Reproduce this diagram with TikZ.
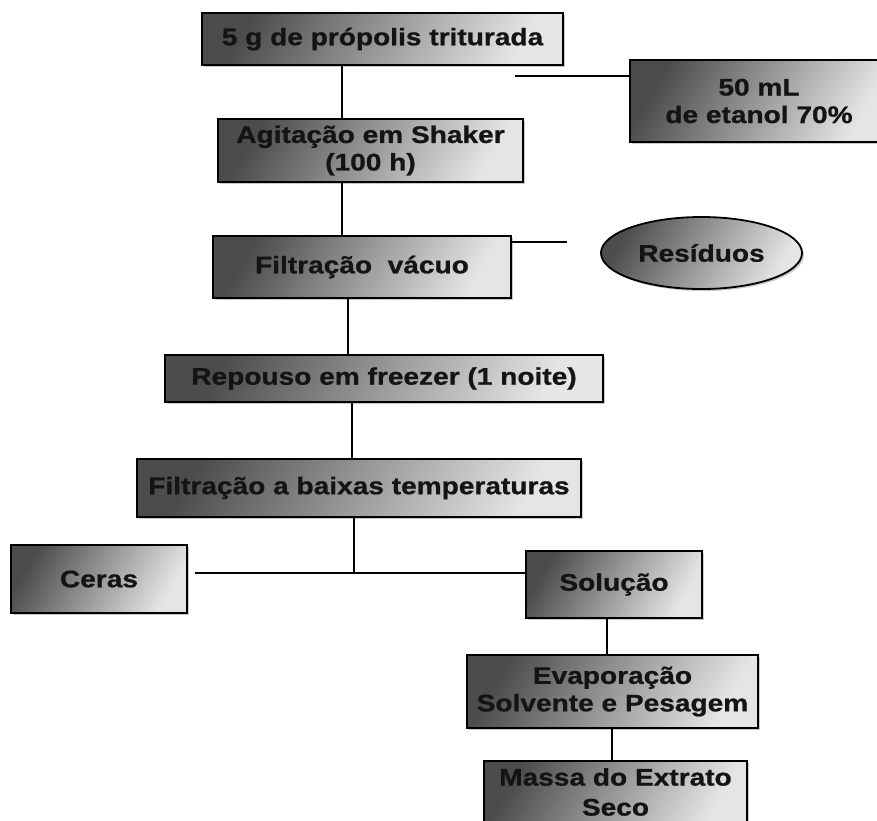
\documentclass[tikz,border=0pt]{standalone}
\usepackage{fontspec}
\setmainfont{Liberation Sans}[FakeStretch=1.17, BoldFeatures={FakeBold=0.8}]
\usetikzlibrary{shadows,shapes.geometric}
\begin{document}
\begin{tikzpicture}[x=1pt,y=-1pt,
  box/.style={draw=black, line width=1.8pt, inner sep=0pt, align=center,
    top color=black!70, bottom color=black!10, shading angle=60,
    drop shadow={shadow xshift=2pt, shadow yshift=-2pt, opacity=0.35, fill=black!60},
    font=\fontsize{24}{27.5}\selectfont\bfseries, text=black!92},
  link/.style={line width=2.6pt, draw=black}]
\useasboundingbox (0,0) rectangle (877,820);
\fill[white] (0,0) rectangle (877,820);

% process steps
\node[box, minimum width=361, minimum height=52] (n1) at (382.5,39) {5 g de própolis triturada};
\node[box, minimum width=258, minimum height=82] (n2) at (759,101) {50 mL\\de etanol 70\%};
\node[box, minimum width=305, minimum height=63] (n3) at (370.5,150.5) {Agitação em Shaker\\(100 h)};
\node[box, minimum width=298, minimum height=62] (n4) at (362,267) {Filtração\ \ vácuo};
\node[box, ellipse, minimum width=201, minimum height=72] (n5) at (701.5,253) {Resíduos};
\node[box, minimum width=438, minimum height=47] (n6) at (384,378.5) {Repouso em freezer (1 noite)};
\node[box, minimum width=444, minimum height=58] (n7) at (359,488) {Filtração a baixas temperaturas};
\node[box, minimum width=176, minimum height=68] (n8) at (99,579) {Ceras};
\node[box, minimum width=176, minimum height=67] (n9) at (614,584.5) {Solução};
\node[box, minimum width=291, minimum height=73] (n10) at (612.5,691.5) {Evaporação\\Solvente e Pesagem};
\node[box, minimum width=263, minimum height=62, font=\fontsize{24}{30}\selectfont\bfseries]
  (n11) at (615.5,792) {Massa do Extrato\\Seco};

% guide positions for the connectors
\coordinate (c1) at (342,0);
\coordinate (c2) at (348,0);
\coordinate (c3) at (352,0);
\coordinate (c4) at (354,0);
\coordinate (c5) at (607,0);
\coordinate (c6) at (612,0);
\coordinate (e1) at (515,76);
\coordinate (e2) at (567,242);
\coordinate (j)  at (354,573);

% connectors
\draw[link] (n1.south -| c1) -- (n3.north -| c1);
\draw[link] (e1) -- (e1 -| n2.west);
\draw[link] (n3.south -| c1) -- (n4.north -| c1);
\draw[link] (e2 -| n4.east) -- (e2);
\draw[link] (n4.south -| c2) -- (n6.north -| c2);
\draw[link] (n6.south -| c3) -- (n7.north -| c3);
\draw[link] (n7.south -| c4) -- (j);
\draw[link] ([xshift=7pt]n8.east |- j) -- (n9.west |- j);
\draw[link] (n9.south -| c5) -- (n10.north -| c5);
\draw[link] (n10.south -| c6) -- (n11.north -| c6);
\end{tikzpicture}
\end{document}
